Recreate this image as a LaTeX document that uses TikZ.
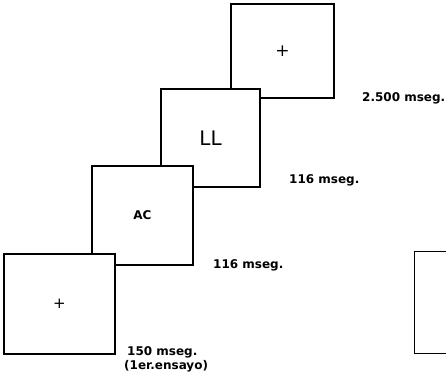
\documentclass[tikz,border=0pt]{standalone}
\usepackage{fontspec}
\setmainfont{DejaVu Sans}
\usetikzlibrary{positioning}

\begin{document}
\begin{tikzpicture}[x=1pt,y=-1pt, every node/.style={font=\bfseries\fontsize{12}{14}\selectfont,inner sep=0pt},
  screen/.style={draw=black,fill=white,line width=1.3pt,minimum width=100pt,minimum height=98pt},
  dur/.style={anchor=west}]
\useasboundingbox (0,0) rectangle (446,384);
\clip (0,0) rectangle (446,384);
% screens, back to front
\node[screen,minimum width=103pt,minimum height=94pt] (fix2) at (282.5,51) {\mdseries\fontsize{17}{17}\selectfont +};
\node[screen,minimum width=99pt] (target) at (210.5,138) {\mdseries\fontsize{20}{20}\selectfont LL};
\node[screen,minimum width=101pt,minimum height=99pt] (prime) at (142.5,215.5) {AC};
\node[screen,minimum width=111pt,minimum height=100pt] (fix1) at (59.5,304) {\mdseries\fontsize{15}{15}\selectfont +};
\node[screen,anchor=north west,minimum width=120pt,minimum height=102pt] (next) at (414,251) {};
% durations
\node[dur] (t4) at (362,98) {2.500 mseg.};
\node[dur] (t3) at (289,180) {116 mseg.};
\node[dur] (t2) at (213,265) {116 mseg.};
\node[dur] (t1) at (127,352) {150 mseg.};
\node[dur,below=2pt of t1.south west,anchor=north west,xshift=-3pt] (trial) {(1er.ensayo)};
\end{tikzpicture}
\end{document}
